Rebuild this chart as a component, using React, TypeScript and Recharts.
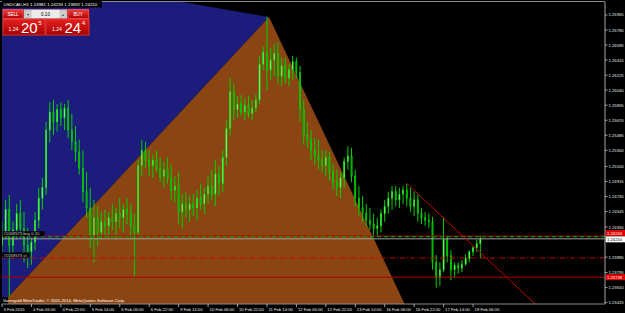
import React from 'react';
import { ComposedChart, Area, Bar, Line, XAxis, YAxis, ReferenceLine } from 'recharts';

const FONT = '"Liberation Sans", Arial, sans-serif';

// H1 bar index (2-hour sampling) from 3 Feb 14:00
const bars = [
  0, 2, 4, 6, 8, 10, 12, 14, 16, 18,
  20, 22, 24, 26, 28, 30, 32, 34, 36, 38,
  40, 42, 44, 46, 48, 50, 52, 54, 56, 58,
  60, 62, 64, 66, 68, 70, 72, 74, 76, 78,
  80, 82, 84, 86, 88, 90, 92, 94, 96, 98,
  100, 102, 104, 106, 108, 110, 112, 114, 116, 118,
  120, 122, 124, 126, 128, 130, 132, 134, 136, 138,
  140, 142, 144, 146, 148, 150, 152, 154, 156, 158,
  160, 162, 164, 166, 168, 170, 172, 174, 176, 178,
  180, 182, 184, 186, 188, 190, 192, 194, 196, 198,
  200, 202, 204, 206, 208, 210, 212, 214, 216, 218,
  220, 222, 224, 226, 228, 230, 232, 234, 236, 238,
  240, 242, 244, 246, 248, 250, 252, 254, 256, 258,
  260,
];
const opens = [
  1.2413, 1.2429, 1.2457, 1.2413, 1.2432, 1.2452, 1.2434, 1.2413, 1.2405, 1.2417,
  1.2444, 1.2471, 1.2484, 1.2555, 1.2577, 1.2565, 1.2580, 1.2570, 1.2582, 1.2555,
  1.2540, 1.2528, 1.2508, 1.2479, 1.2459, 1.2425, 1.2447, 1.2429, 1.2442, 1.2437,
  1.2447, 1.2442, 1.2452, 1.2447, 1.2457, 1.2452, 1.2437, 1.2429, 1.2511, 1.2530,
  1.2518, 1.2511, 1.2518, 1.2508, 1.2498, 1.2506, 1.2496, 1.2481, 1.2486, 1.2454,
  1.2464, 1.2457, 1.2464, 1.2459, 1.2471, 1.2464, 1.2476, 1.2486, 1.2476, 1.2501,
  1.2489, 1.2521, 1.2557, 1.2602, 1.2580, 1.2587, 1.2577, 1.2585, 1.2575, 1.2582,
  1.2592, 1.2636, 1.2651, 1.2629, 1.2641, 1.2649, 1.2621, 1.2634, 1.2619, 1.2629,
  1.2639, 1.2626, 1.2580, 1.2548, 1.2543, 1.2530, 1.2523, 1.2518, 1.2511, 1.2521,
  1.2503, 1.2491, 1.2484, 1.2496, 1.2516, 1.2523, 1.2498, 1.2471, 1.2459, 1.2452,
  1.2444, 1.2439, 1.2434, 1.2437, 1.2452, 1.2461, 1.2471, 1.2479, 1.2469, 1.2476,
  1.2481, 1.2471, 1.2461, 1.2469, 1.2452, 1.2447, 1.2444, 1.2442, 1.2392, 1.2373,
  1.2383, 1.2420, 1.2400, 1.2383, 1.2388, 1.2385, 1.2390, 1.2397, 1.2405, 1.2410,
  1.2415,
];
const highs = [
  1.2442, 1.2469, 1.2475, 1.2442, 1.2464, 1.2469, 1.2454, 1.2434, 1.2422, 1.2454,
  1.2484, 1.2496, 1.2565, 1.2589, 1.2592, 1.2587, 1.2589, 1.2587, 1.2592, 1.2575,
  1.2560, 1.2543, 1.2530, 1.2503, 1.2484, 1.2469, 1.2461, 1.2454, 1.2457, 1.2454,
  1.2464, 1.2459, 1.2471, 1.2464, 1.2471, 1.2464, 1.2452, 1.2518, 1.2543, 1.2540,
  1.2530, 1.2525, 1.2530, 1.2521, 1.2516, 1.2521, 1.2512, 1.2498, 1.2503, 1.2476,
  1.2479, 1.2474, 1.2476, 1.2481, 1.2489, 1.2484, 1.2498, 1.2506, 1.2518, 1.2511,
  1.2530, 1.2567, 1.2619, 1.2612, 1.2597, 1.2598, 1.2594, 1.2597, 1.2592, 1.2599,
  1.2646, 1.2658, 1.2694, 1.2656, 1.2661, 1.2663, 1.2644, 1.2644, 1.2636, 1.2646,
  1.2644, 1.2634, 1.2592, 1.2565, 1.2555, 1.2545, 1.2543, 1.2530, 1.2530, 1.2528,
  1.2513, 1.2506, 1.2503, 1.2521, 1.2535, 1.2533, 1.2506, 1.2486, 1.2474, 1.2464,
  1.2459, 1.2452, 1.2447, 1.2457, 1.2469, 1.2479, 1.2486, 1.2486, 1.2484, 1.2486,
  1.2489, 1.2484, 1.2479, 1.2476, 1.2459, 1.2454, 1.2452, 1.2448, 1.2401, 1.2392,
  1.2447, 1.2425, 1.2407, 1.2392, 1.2392, 1.2395, 1.2402, 1.2407, 1.2412, 1.2420,
  1.2425,
];
const lows = [
  1.2405, 1.2420, 1.2349, 1.2397, 1.2420, 1.2422, 1.2392, 1.2385, 1.2389, 1.2407,
  1.2434, 1.2457, 1.2475, 1.2540, 1.2549, 1.2553, 1.2560, 1.2555, 1.2545, 1.2530,
  1.2516, 1.2500, 1.2466, 1.2447, 1.2410, 1.2392, 1.2412, 1.2420, 1.2425, 1.2422,
  1.2432, 1.2420, 1.2434, 1.2429, 1.2439, 1.2420, 1.2375, 1.2425, 1.2498, 1.2508,
  1.2498, 1.2496, 1.2503, 1.2491, 1.2484, 1.2489, 1.2469, 1.2466, 1.2439, 1.2434,
  1.2447, 1.2442, 1.2449, 1.2444, 1.2457, 1.2452, 1.2464, 1.2469, 1.2461, 1.2474,
  1.2479, 1.2511, 1.2548, 1.2567, 1.2570, 1.2572, 1.2567, 1.2570, 1.2567, 1.2577,
  1.2587, 1.2629, 1.2604, 1.2617, 1.2621, 1.2612, 1.2609, 1.2612, 1.2609, 1.2617,
  1.2619, 1.2565, 1.2537, 1.2533, 1.2518, 1.2512, 1.2506, 1.2503, 1.2498, 1.2493,
  1.2481, 1.2474, 1.2471, 1.2484, 1.2506, 1.2491, 1.2461, 1.2449, 1.2442, 1.2437,
  1.2432, 1.2425, 1.2425, 1.2429, 1.2442, 1.2452, 1.2457, 1.2461, 1.2459, 1.2464,
  1.2461, 1.2454, 1.2449, 1.2442, 1.2439, 1.2437, 1.2434, 1.2383, 1.2361, 1.2363,
  1.2380, 1.2392, 1.2370, 1.2373, 1.2378, 1.2380, 1.2388, 1.2392, 1.2400, 1.2405,
  1.2397,
];
const closes = [
  1.2429, 1.2457, 1.2413, 1.2432, 1.2452, 1.2434, 1.2413, 1.2405, 1.2417, 1.2444,
  1.2471, 1.2484, 1.2555, 1.2577, 1.2565, 1.2580, 1.2570, 1.2582, 1.2555, 1.2540,
  1.2528, 1.2508, 1.2479, 1.2459, 1.2425, 1.2447, 1.2429, 1.2442, 1.2437, 1.2447,
  1.2442, 1.2452, 1.2447, 1.2457, 1.2452, 1.2437, 1.2429, 1.2511, 1.2530, 1.2518,
  1.2511, 1.2518, 1.2508, 1.2498, 1.2506, 1.2496, 1.2481, 1.2486, 1.2454, 1.2464,
  1.2457, 1.2464, 1.2459, 1.2471, 1.2464, 1.2476, 1.2486, 1.2476, 1.2501, 1.2489,
  1.2521, 1.2557, 1.2602, 1.2580, 1.2587, 1.2577, 1.2585, 1.2575, 1.2582, 1.2592,
  1.2636, 1.2651, 1.2629, 1.2641, 1.2649, 1.2621, 1.2634, 1.2619, 1.2629, 1.2639,
  1.2626, 1.2580, 1.2548, 1.2543, 1.2530, 1.2523, 1.2518, 1.2511, 1.2521, 1.2503,
  1.2491, 1.2484, 1.2496, 1.2516, 1.2523, 1.2498, 1.2471, 1.2459, 1.2452, 1.2444,
  1.2439, 1.2434, 1.2437, 1.2452, 1.2461, 1.2471, 1.2479, 1.2469, 1.2476, 1.2481,
  1.2471, 1.2461, 1.2469, 1.2452, 1.2447, 1.2444, 1.2442, 1.2392, 1.2373, 1.2383,
  1.2420, 1.2400, 1.2383, 1.2388, 1.2385, 1.2390, 1.2397, 1.2405, 1.2410, 1.2415,
  1.2421,
];

const timeTicks = [0, 16, 32, 48, 64, 80, 96, 112, 128, 144, 160, 176, 192, 208, 224, 240, 256];
const timeLabels = [
  '3 Feb 2015', '4 Feb 06:00', '4 Feb 22:00', '5 Feb 14:00', '6 Feb 06:00', '6 Feb 22:00',
  '9 Feb 14:00', '10 Feb 06:00', '10 Feb 22:00', '11 Feb 14:00', '12 Feb 06:00', '12 Feb 22:00',
  '13 Feb 14:00', '16 Feb 06:00', '16 Feb 22:00', '17 Feb 14:00', '18 Feb 06:00',
];
const priceTicks = [
  1.26965, 1.2678, 1.26595, 1.2641, 1.26225, 1.2604, 1.25855, 1.2567, 1.25485, 1.253,
  1.251, 1.24915, 1.2473, 1.24545, 1.24355, 1.23985, 1.23795, 1.2361, 1.23425,
];

// drawing objects (time in bars, price)
const blueTriangle = [
  { bar: 0, band: [1.2349, 1.27507] },
  { bar: 3.3, band: [1.2349, 1.27495] },
  { bar: 145.1, band: [1.2694, 1.2694] },
];
const brownTriangle = [
  { bar: 3.3, v: 1.2349 },
  { bar: 145.1, v: 1.2694 },
  { bar: 218.8, v: 1.23408 },
];
const trendLine = [
  { bar: 220, v: 1.2489 },
  { bar: 300, v: 1.2319 },
];
const bidPrice = 1.2421;
const askPrice = 1.24244;
const orderPrice = 1.24236;
const stopPrice = 1.23974;
const levelPrice = 1.23738;

const candles = bars.map((b, i) => ({
  bar: b,
  open: opens[i],
  high: highs[i],
  low: lows[i],
  close: closes[i],
  range: [lows[i], highs[i]],
}));

const Candle = (props: any) => {
  const { x, y, width, height, payload } = props;
  if (!payload) return null;
  const top = Math.min(y, y + height);
  const h = Math.abs(height);
  const { open, close, high, low } = payload;
  const k = high > low ? h / (high - low) : 0;
  const bTop = top + (high - Math.max(open, close)) * k;
  const bBot = top + (high - Math.min(open, close)) * k;
  const cx = x + width / 2;
  const bull = close >= open;
  return (
    <g>
      <line x1={cx} x2={cx} y1={top} y2={top + h} stroke="#00D000" strokeWidth={1} />
      <rect
        x={x}
        y={bTop}
        width={width}
        height={Math.max(1, bBot - bTop)}
        fill={bull ? '#B8FFB0' : '#009A00'}
        stroke="#00E000"
        strokeWidth={0.6}
      />
    </g>
  );
};

const TimeTick = (p: any) => {
  const { x, y, payload } = p;
  const i = timeTicks.indexOf(payload.value);
  return (
    <g>
      <line x1={x} y1={y} x2={x} y2={y + 3} stroke="#c8c8c8" strokeWidth={0.8} />
      <text x={x + 1.5} y={y + 7} fill="#e8e8e8" fontSize={4.2} fontFamily={FONT}>
        {timeLabels[i]}
      </text>
    </g>
  );
};

const PriceTick = (p: any) => {
  const { x, y, payload } = p;
  return (
    <g>
      <line x1={x} y1={y} x2={x + 2.5} y2={y} stroke="#c8c8c8" strokeWidth={0.8} />
      <text x={x + 3.5} y={y + 1.5} fill="#e8e8e8" fontSize={4.2} fontFamily={FONT}>
        {payload.value.toFixed(5)}
      </text>
    </g>
  );
};

const rightTag = (text: string, bg: string, fg: string, dy: number) => (props: any) => {
  const vb = props.viewBox;
  const x = vb.x + vb.width;
  const y = vb.y + dy;
  return (
    <g>
      <rect x={x + 0.5} y={y - 3} width={19.5} height={6} fill={bg} />
      <text x={x + 2} y={y + 1.6} fontSize={4.2} fill={fg} fontFamily={FONT}>{text}</text>
    </g>
  );
};

const leftTag = (text: string, w: number) => (props: any) => {
  const vb = props.viewBox;
  return (
    <g>
      <rect x={vb.x + 0.5} y={vb.y - 5.5} width={w} height={5} fill="#000" />
      <text x={vb.x + 1.5} y={vb.y - 1.5} fontSize={4.2} fill="#d8d8d8" fontFamily={FONT}>{text}</text>
    </g>
  );
};

const Panel = () => (
  <svg width={625} height={313} style={{ position: 'absolute', left: 0, top: 0, pointerEvents: 'none' }}>
    <defs>
      <linearGradient id="red1" x1="0" y1="0" x2="0" y2="1">
        <stop offset="0" stopColor="#F04040" />
        <stop offset="1" stopColor="#B00000" />
      </linearGradient>
      <linearGradient id="red2" x1="0" y1="0" x2="0" y2="1">
        <stop offset="0" stopColor="#E82020" />
        <stop offset="1" stopColor="#A80000" />
      </linearGradient>
    </defs>
    <line x1={0} y1={1.5} x2={605} y2={1.5} stroke="#8a8a8a" strokeWidth={1} />
    <rect x={2} y={1} width={100} height={6.5} fill="#000" />
    <text x={3.5} y={6} fontSize={4.4} fill="#ffffff" fontFamily={FONT}>
      USDCAD,H1  1.24981 1.24233 1.23992 1.24210
    </text>
    <rect x={2.5} y={9} width={87} height={26.5} fill="#C00000" />
    <rect x={3} y={9.5} width={20} height={9} fill="url(#red1)" stroke="#F08080" strokeWidth={0.5} />
    <text x={13} y={15.6} fontSize={4.6} fill="#fff" textAnchor="middle" fontFamily={FONT}>SELL</text>
    <rect x={24} y={9.5} width={43} height={9} fill="#ECECEC" stroke="#909090" strokeWidth={0.5} />
    <rect x={25} y={10.5} width={6} height={7} fill="#D0D0D0" stroke="#A0A0A0" strokeWidth={0.4} />
    <rect x={60} y={10.5} width={6} height={7} fill="#D0D0D0" stroke="#A0A0A0" strokeWidth={0.4} />
    <text x={28} y={15.5} fontSize={4} fill="#404040" textAnchor="middle" fontFamily={FONT}>▾</text>
    <text x={63} y={15.5} fontSize={4} fill="#404040" textAnchor="middle" fontFamily={FONT}>▴</text>
    <text x={45.5} y={15.8} fontSize={4.6} fill="#000" textAnchor="middle" fontFamily={FONT}>0.10</text>
    <rect x={68} y={9.5} width={20.5} height={9} fill="url(#red1)" stroke="#F08080" strokeWidth={0.5} />
    <text x={78.2} y={15.6} fontSize={4.6} fill="#fff" textAnchor="middle" fontFamily={FONT}>BUY</text>
    <rect x={3} y={19} width={42} height={16} fill="url(#red2)" stroke="#F06060" strokeWidth={0.5} />
    <rect x={46} y={19} width={43} height={16} fill="url(#red2)" stroke="#F06060" strokeWidth={0.5} />
    <text x={8.5} y={31} fontSize={5} fill="#fff" fontFamily={FONT}>1.24</text>
    <text x={21} y={32.5} fontSize={15} fill="#fff" fontFamily={FONT}>20</text>
    <text x={38.5} y={25} fontSize={5.5} fill="#fff" fontFamily={FONT}>5</text>
    <text x={52} y={31} fontSize={5} fill="#fff" fontFamily={FONT}>1.24</text>
    <text x={64.5} y={32.5} fontSize={15} fill="#fff" fontFamily={FONT}>24</text>
    <text x={82} y={25} fontSize={5.5} fill="#fff" fontFamily={FONT}>4</text>
    <text x={3} y={302.3} fontSize={4.2} fill="#ffffff" fontFamily={FONT}>
      Varengold MetaTrader, © 2001-2014, MetaQuotes Software Corp.
    </text>
  </svg>
);

export default function App() {
  return (
    <div style={{ position: 'fixed', left: 0, top: 0, width: 625, height: 313, background: '#000', overflow: 'hidden' }}>
      <ComposedChart
        width={625}
        height={313}
        data={candles}
        margin={{ top: 2, right: 0, bottom: 0, left: 2 }}
      >
        <XAxis
          dataKey="bar"
          type="number"
          domain={[0, 327.7]}
          allowDataOverflow
          ticks={timeTicks}
          interval={0}
          height={9}
          tickSize={0}
          tickMargin={0}
          axisLine={{ stroke: '#8a8a8a', strokeWidth: 1.2 }}
          tickLine={false}
          tick={<TimeTick />}
        />
        <YAxis
          orientation="right"
          type="number"
          domain={[1.23408, 1.27125]}
          allowDataOverflow
          ticks={priceTicks}
          interval={0}
          width={20}
          tickSize={0}
          tickMargin={0}
          axisLine={{ stroke: '#8a8a8a', strokeWidth: 1.2 }}
          tickLine={false}
          tick={<PriceTick />}
        />
        <Area
          data={blueTriangle}
          dataKey="band"
          type="linear"
          stroke="none"
          fill="#1C1C7C"
          fillOpacity={1}
          isAnimationActive={false}
        />
        <Area
          data={brownTriangle}
          dataKey="v"
          type="linear"
          baseValue={1.23}
          stroke="none"
          fill="#8B4513"
          fillOpacity={1}
          isAnimationActive={false}
        />
        <Bar dataKey="range" barSize={3.2} shape={Candle} isAnimationActive={false} />
        <ReferenceLine y={askPrice} stroke="#B00000" strokeWidth={1} label={rightTag('1.24244', '#E00000', '#ffffff', -3)} />
        <ReferenceLine y={orderPrice} stroke="#00B000" strokeWidth={1} strokeDasharray="4 3" label={leftTag('#1059573 buy 0.10', 42)} />
        <ReferenceLine y={bidPrice} stroke="#A0A0A0" strokeWidth={1} label={rightTag('1.24210', '#ffffff', '#000000', 0.5)} />
        <ReferenceLine y={stopPrice} stroke="#D00000" strokeWidth={1} strokeDasharray="5 2 1 2" label={leftTag('#1059573 sl', 27)} />
        <ReferenceLine y={levelPrice} stroke="#B00000" strokeWidth={1} label={rightTag('1.23738', '#E00000', '#ffffff', 0)} />
        <Line
          data={trendLine}
          dataKey="v"
          type="linear"
          stroke="#C00000"
          strokeWidth={1}
          dot={false}
          isAnimationActive={false}
        />
      </ComposedChart>
      <Panel />
    </div>
  );
}
